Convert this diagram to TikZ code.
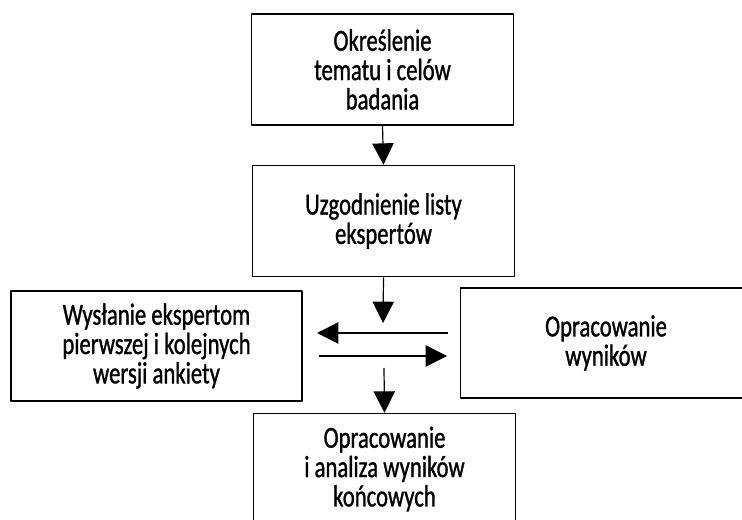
\documentclass[tikz,border=0pt]{standalone}
\usepackage{fontspec}
\setmainfont[FakeStretch=0.74,FakeBold=1]{Carlito}
\usetikzlibrary{arrows.meta}
\begin{document}
\begin{tikzpicture}[x=0.75pt, y=0.75pt, line join=round, >={Triangle[length=16pt,width=16pt]},
		font=\fontsize{23}{22}\selectfont,
		box/.style={draw, line width=1.2pt, inner sep=0pt, align=center, minimum width=196.5pt, minimum height=83.25pt},
		widebox/.style={box, minimum width=218.25pt, minimum height=82.5pt},
		arr/.style={->, line width=0.9pt}]
			\clip (0,0) rectangle (742,520);
			\node[box] (temat) at (382.5,450.5) {Określenie\\tematu i celów\\badania};
			\node[box] (lista) at (383.5,299) {Uzgodnienie listy\\ekspertów};
			\node[widebox] (wyslanie) at (156.5,174) {Wysłanie ekspertom\\pierwszej i kolejnych\\wersji ankiety};
			\node[widebox] (wyniki) at (606,177) {Opracowanie\\wyników};
			\node[box] (analiza) at (384.5,51) {Opracowanie\\i analiza wyników\\końcowych};
			% strzalki miedzy etapami
			\coordinate (c1) at (383,197);
			\coordinate (c2) at (384,152);
			\coordinate (l1) at (448,187);
			\coordinate (l2) at (317,187);
			\coordinate (p1) at (319,164);
			\coordinate (p2) at (447,164);
			\draw[arr] (temat.south) -- (lista.north);
			\draw[arr] (lista.south) -- (c1);
			\draw[arr] (l1) -- (l2);
			\draw[arr] (p1) -- (p2);
			\draw[arr] (c2) -- (analiza.north);
		\end{tikzpicture}
\end{document}
